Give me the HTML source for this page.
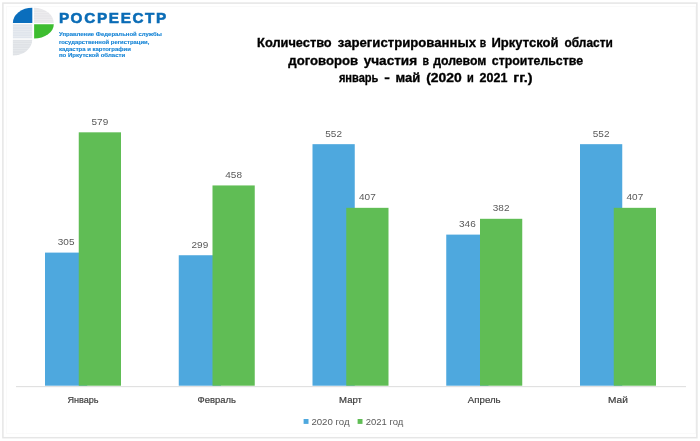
<!DOCTYPE html>
<html lang="ru"><head><meta charset="utf-8"><title>Росреестр</title>
<style>
html,body{margin:0;padding:0;background:#fff;}
body{width:700px;height:441px;overflow:hidden;font-family:"Liberation Sans",sans-serif;}
svg{display:block;}
text{font-family:"Liberation Sans",sans-serif;}
.dl{font-size:9.8px;fill:#595959;text-anchor:middle;}
.cl{font-size:9.4px;fill:#404040;stroke:#404040;stroke-width:0.2px;text-anchor:middle;}
.lg{font-size:9.6px;fill:#595959;}
.tt{font-size:12px;font-weight:bold;fill:#000;stroke:#000;stroke-width:0.3px;}
.logo{font-size:14.2px;font-weight:bold;fill:#0a6cb6;stroke:#0a6cb6;stroke-width:0.55px;letter-spacing:1.6px;}
.sub{font-size:5.4px;font-weight:bold;fill:#1584d6;stroke:#1584d6;stroke-width:0.12px;}
</style></head><body>
<svg width="700" height="441" viewBox="0 0 700 441">
<rect x="0" y="0" width="700" height="441" fill="#fff"/>
<rect x="2.9" y="3.1" width="694" height="434.6" fill="none" stroke="#e6e6e6" stroke-width="1.5"/>
<rect x="6.5" y="6.5" width="689" height="427" fill="none" stroke="#fafafa" stroke-width="1"/>
<!-- logo -->
<defs><pattern id="hatch" width="4" height="2.4" patternUnits="userSpaceOnUse"><rect x="0" y="0" width="4" height="0.7" fill="#ffffff" fill-opacity="0.3"/></pattern></defs>
<g id="logo">
<path d="M32.3 22.9 L12.9 22.9 A19.4 15.2 0 0 1 32.3 7.7 Z" fill="#0a6ebd"/>
<path d="M34 23 L34 7.8 A19.7 15.2 0 0 1 53.7 23 Z" fill="#e7e6e9"/>
<path d="M34 23 L34 7.8 A19.7 15.2 0 0 1 53.7 23 Z" fill="url(#hatch)"/>
<path d="M34.1 24.2 L53.8 24.2 A19.7 14.3 0 0 1 34.1 38.5 Z" fill="#3dbd30"/>
<rect x="12.9" y="23.9" width="19.3" height="14.5" fill="#e0e5ec"/>
<rect x="12.9" y="23.9" width="19.3" height="14.5" fill="url(#hatch)"/>
<path d="M12.9 39.8 L32.2 39.8 A19.3 15.7 0 0 1 12.9 55.5 Z" fill="#dfe2e6"/>
<path d="M12.9 39.8 L32.2 39.8 A19.3 15.7 0 0 1 12.9 55.5 Z" fill="url(#hatch)"/>
</g>
<text class="logo" x="58.9" y="22.9" textLength="109" lengthAdjust="spacingAndGlyphs">РОСРЕЕСТР</text>
<text class="sub" x="58.9" y="35.9" textLength="103" lengthAdjust="spacingAndGlyphs">Управление Федеральной службы</text>
<text class="sub" x="58.9" y="43.5" textLength="90.4" lengthAdjust="spacingAndGlyphs">государственной регистрации,</text>
<text class="sub" x="58.9" y="50.7" textLength="72" lengthAdjust="spacingAndGlyphs">кадастра и картографии</text>
<text class="sub" x="58.9" y="57.3" textLength="66.3" lengthAdjust="spacingAndGlyphs">по Иркутской области</text>
<!-- title -->
<text class="tt" x="257.1" y="46.8" textLength="74.6" lengthAdjust="spacingAndGlyphs">Количество</text>
<text class="tt" x="337.8" y="46.8" textLength="138.2" lengthAdjust="spacingAndGlyphs">зарегистрированных</text>
<text class="tt" x="479.8" y="46.8" textLength="6.4" lengthAdjust="spacingAndGlyphs">в</text>
<text class="tt" x="491.5" y="46.8" textLength="67.0" lengthAdjust="spacingAndGlyphs">Иркутской</text>
<text class="tt" x="564.5" y="46.8" textLength="48.3" lengthAdjust="spacingAndGlyphs">области</text>
<text class="tt" x="288.3" y="64.6" textLength="69.8" lengthAdjust="spacingAndGlyphs">договоров</text>
<text class="tt" x="363.7" y="64.6" textLength="53.4" lengthAdjust="spacingAndGlyphs">участия</text>
<text class="tt" x="422.5" y="64.6" textLength="6.5" lengthAdjust="spacingAndGlyphs">в</text>
<text class="tt" x="433.2" y="64.6" textLength="53.2" lengthAdjust="spacingAndGlyphs">долевом</text>
<text class="tt" x="491.8" y="64.6" textLength="91.3" lengthAdjust="spacingAndGlyphs">строительстве</text>
<text class="tt" x="338.9" y="82.1" textLength="39.5" lengthAdjust="spacingAndGlyphs">январь</text>
<text class="tt" x="384.2" y="82.1" textLength="5.6" lengthAdjust="spacingAndGlyphs">-</text>
<text class="tt" x="395.6" y="82.1" textLength="24.8" lengthAdjust="spacingAndGlyphs">май</text>
<text class="tt" x="426.2" y="82.1" textLength="35.6" lengthAdjust="spacingAndGlyphs">(2020</text>
<text class="tt" x="467.0" y="82.1" textLength="6.8" lengthAdjust="spacingAndGlyphs">и</text>
<text class="tt" x="479.6" y="82.1" textLength="27.8" lengthAdjust="spacingAndGlyphs">2021</text>
<text class="tt" x="513.2" y="82.1" textLength="19.2" lengthAdjust="spacingAndGlyphs">гг.)</text>
<!-- axis -->
<line x1="16" y1="386.65" x2="686" y2="386.65" stroke="#dcdcdc" stroke-width="1"/>
<rect x="45.00" y="252.60" width="42.25" height="133.09" fill="#4ea8de"/>
<rect x="78.75" y="132.32" width="42.25" height="253.38" fill="#60bd55"/>
<text class="dl" x="66.12" y="245.00" textLength="16.7" lengthAdjust="spacingAndGlyphs">305</text>
<text class="dl" x="99.88" y="124.72" textLength="16.7" lengthAdjust="spacingAndGlyphs">579</text>
<text class="cl" x="83.00" y="403.3" textLength="31.2" lengthAdjust="spacingAndGlyphs">Январь</text>
<rect x="178.75" y="255.24" width="42.25" height="130.46" fill="#4ea8de"/>
<rect x="212.50" y="185.44" width="42.25" height="200.26" fill="#60bd55"/>
<text class="dl" x="199.88" y="247.64" textLength="16.7" lengthAdjust="spacingAndGlyphs">299</text>
<text class="dl" x="233.62" y="177.84" textLength="16.7" lengthAdjust="spacingAndGlyphs">458</text>
<text class="cl" x="216.75" y="403.3" textLength="38.4" lengthAdjust="spacingAndGlyphs">Февраль</text>
<rect x="312.50" y="144.17" width="42.25" height="241.53" fill="#4ea8de"/>
<rect x="346.25" y="207.83" width="42.25" height="177.87" fill="#60bd55"/>
<text class="dl" x="333.62" y="136.57" textLength="16.7" lengthAdjust="spacingAndGlyphs">552</text>
<text class="dl" x="367.38" y="200.23" textLength="16.7" lengthAdjust="spacingAndGlyphs">407</text>
<text class="cl" x="350.50" y="403.3" textLength="22.8" lengthAdjust="spacingAndGlyphs">Март</text>
<rect x="446.25" y="234.61" width="42.25" height="151.09" fill="#4ea8de"/>
<rect x="480.00" y="218.80" width="42.25" height="166.90" fill="#60bd55"/>
<text class="dl" x="467.38" y="227.01" textLength="16.7" lengthAdjust="spacingAndGlyphs">346</text>
<text class="dl" x="501.12" y="211.20" textLength="16.7" lengthAdjust="spacingAndGlyphs">382</text>
<text class="cl" x="484.25" y="403.3" textLength="32.8" lengthAdjust="spacingAndGlyphs">Апрель</text>
<rect x="580.00" y="144.17" width="42.25" height="241.53" fill="#4ea8de"/>
<rect x="613.75" y="207.83" width="42.25" height="177.87" fill="#60bd55"/>
<text class="dl" x="601.12" y="136.57" textLength="16.7" lengthAdjust="spacingAndGlyphs">552</text>
<text class="dl" x="634.88" y="200.23" textLength="16.7" lengthAdjust="spacingAndGlyphs">407</text>
<text class="cl" x="618.00" y="403.3" textLength="19.8" lengthAdjust="spacingAndGlyphs">Май</text>
<!-- legend -->
<rect x="303.6" y="419" width="4.9" height="4.9" fill="#4ea8de"/>
<text class="lg" x="311.4" y="425" textLength="38.2" lengthAdjust="spacingAndGlyphs">2020 год</text>
<rect x="357.6" y="419" width="4.9" height="4.9" fill="#60bd55"/>
<text class="lg" x="365.8" y="425" textLength="37.6" lengthAdjust="spacingAndGlyphs">2021 год</text>
</svg>
</body></html>
